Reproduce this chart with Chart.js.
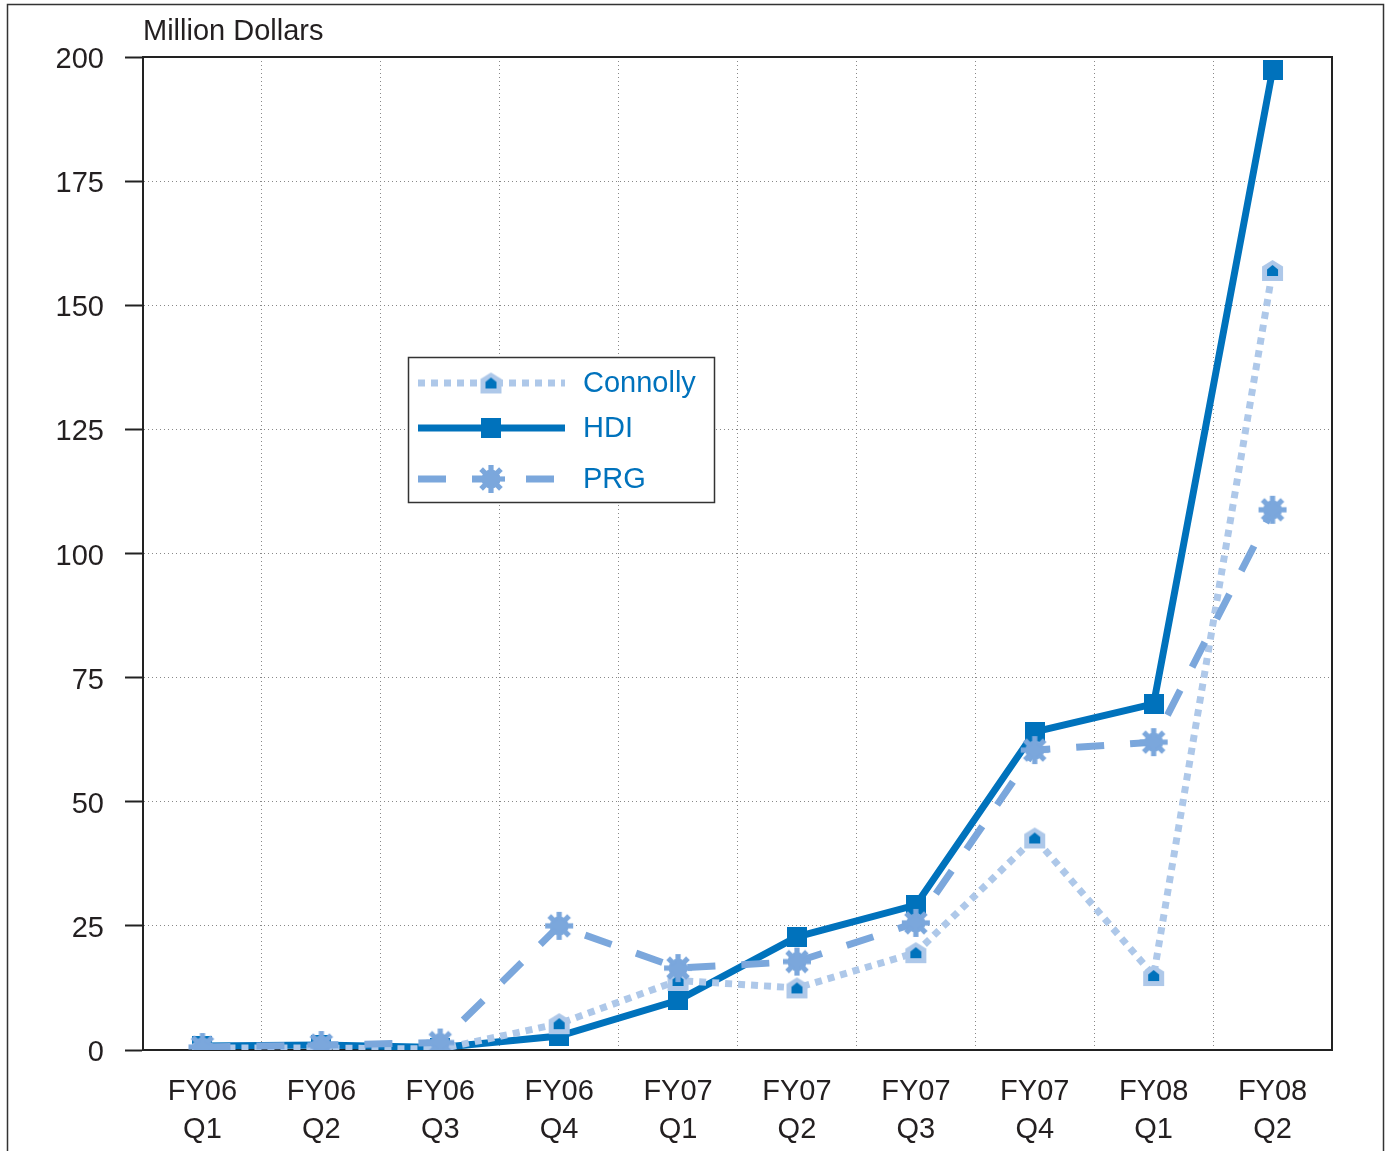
<!DOCTYPE html>
<html><head><meta charset="utf-8">
<style>html,body{margin:0;padding:0;background:#fff;} #wrap{position:relative;width:1385px;height:1151px;}</style>
<script src="https://cdn.jsdelivr.net/npm/chart.js@4/dist/chart.umd.min.js"></script>
</head><body><div id="wrap"><canvas id="c" width="1385" height="1151"></canvas></div>
<script>
const categories = [['FY06','Q1'],['FY06','Q2'],['FY06','Q3'],['FY06','Q4'],['FY07','Q1'],['FY07','Q2'],['FY07','Q3'],['FY07','Q4'],['FY08','Q1'],['FY08','Q2']];
const connolly = [0.4, 0.4, 0.2, 5.3, 14, 12.5, 19.6, 42.7, 15, 157];
const hdi = [0.8, 1.0, 0.5, 2.8, 10, 22.8, 29.2, 64.1, 69.7, 197.3];
const prg = [0.6, 1.0, 1.5, 25, 16.5, 17.8, 25.6, 60.4, 62, 108.8];
const seriesNames = ['Connolly', 'HDI', 'PRG'];
const yMin = 0, yMax = 200, yStep = 25;
const yTitle = 'Million Dollars';

const FONT = '"Liberation Sans", Arial, Helvetica, sans-serif';
const FS = 29;
const C_HDI = '#0072bc', C_PRG = '#7ba7dc', C_CON = '#aec8e9';

function makeCanvas(w, h, draw) { const c = document.createElement('canvas'); c.width = w; c.height = h; draw(c.getContext('2d')); return c; }
const houseMarker = makeCanvas(23, 23, ctx => {
  ctx.fillStyle = C_CON; ctx.beginPath();
  ctx.moveTo(11.5, 1); ctx.lineTo(22, 7.5); ctx.lineTo(22, 22); ctx.lineTo(1, 22); ctx.lineTo(1, 7.5); ctx.closePath(); ctx.fill();
  ctx.fillStyle = C_HDI; ctx.beginPath();
  ctx.moveTo(11.5, 6); ctx.lineTo(17, 10.5); ctx.lineTo(17, 17); ctx.lineTo(6, 17); ctx.lineTo(6, 10.5); ctx.closePath(); ctx.fill();
});
const squareMarker = makeCanvas(20, 20, ctx => { ctx.fillStyle = C_HDI; ctx.fillRect(0, 0, 20, 20); });
const gearMarker = makeCanvas(30, 30, ctx => {
  ctx.fillStyle = C_PRG; ctx.translate(15, 15);
  ctx.beginPath(); ctx.arc(0, 0, 9.5, 0, Math.PI * 2); ctx.fill();
  for (let i = 0; i < 8; i++) { ctx.save(); ctx.rotate(i * Math.PI / 4); ctx.fillRect(-2.6, -14, 5.2, 8); ctx.restore(); }
});

const decor = {
  id: 'decor',
  afterDraw(chart) {
    const ctx = chart.ctx, a = chart.chartArea;
    ctx.save();
    ctx.strokeStyle = '#333'; ctx.lineWidth = 1.5;
    ctx.strokeRect(7.5, 4.5, 1376, 1200);
    ctx.strokeStyle = '#222'; ctx.lineWidth = 2;
    ctx.beginPath(); ctx.moveTo(a.left, a.top); ctx.lineTo(a.right, a.top); ctx.lineTo(a.right, a.bottom); ctx.stroke();
    ctx.fillStyle = '#231f20'; ctx.font = FS + 'px ' + FONT; ctx.textAlign = 'left'; ctx.textBaseline = 'middle';
    ctx.fillText(yTitle, 143, 32);
    const lx = 408, ly = 357, lw = 306, lh = 145;
    ctx.fillStyle = '#fff'; ctx.fillRect(lx, ly, lw, lh);
    ctx.strokeStyle = '#333'; ctx.lineWidth = 1.5; ctx.strokeRect(lx + 0.5, ly + 0.5, lw, lh);
    const rows = [383, 428, 479];
    chart.data.datasets.forEach((ds, i) => {
      const y = rows[i];
      ctx.save();
      ctx.strokeStyle = ds.borderColor; ctx.lineWidth = ds.borderWidth; ctx.setLineDash(ds.borderDash || []);
      ctx.beginPath(); ctx.moveTo(418, y); ctx.lineTo(565, y); ctx.stroke();
      ctx.restore();
      const img = ds.pointStyle;
      ctx.drawImage(img, 491 - img.width / 2, y - img.height / 2);
      ctx.fillStyle = C_HDI; ctx.font = FS + 'px ' + FONT; ctx.textAlign = 'left'; ctx.textBaseline = 'middle';
      ctx.fillText(ds.label, 583, y + 1);
    });
    ctx.restore();
  }
};

new Chart(document.getElementById('c'), {
  type: 'line',
  data: {
    labels: categories,
    datasets: [
      { label: seriesNames[0], data: connolly, borderColor: C_CON, borderWidth: 7, borderDash: [7, 6], pointStyle: houseMarker, pointRadius: 11, order: 1, fill: false, tension: 0 },
      { label: seriesNames[1], data: hdi, borderColor: C_HDI, borderWidth: 7, borderDash: [], pointStyle: squareMarker, pointRadius: 10, order: 2, fill: false, tension: 0 },
      { label: seriesNames[2], data: prg, borderColor: C_PRG, borderWidth: 7, borderDash: [28, 26], pointStyle: gearMarker, pointRadius: 14, order: 0, fill: false, tension: 0 }
    ]
  },
  options: {
    responsive: false, animation: false, devicePixelRatio: 1,
    layout: { padding: { top: 57, right: 53, left: 0, bottom: 0 } },
    plugins: { legend: { display: false }, tooltip: { enabled: false }, title: { display: false } },
    scales: {
      x: {
        offset: true,
        grid: { offset: true, color: '#888', lineWidth: 1, drawTicks: false },
        border: { display: true, color: '#222', width: 2, dash: [1, 3] },
        ticks: { color: '#231f20', font: { family: FONT, size: FS, lineHeight: 1.32 }, padding: 23, maxRotation: 0, autoSkip: false },
        afterFit(s) { s.height = 101; }
      },
      y: {
        min: yMin, max: yMax,
        grid: { color: '#888', lineWidth: 1, tickColor: '#222', tickWidth: 2, tickBorderDash: [], tickLength: 18 },
        border: { display: true, color: '#222', width: 2, dash: [1, 3] },
        ticks: { stepSize: yStep, color: '#231f20', font: { family: FONT, size: FS }, padding: 21, labelOffset: 3 },
        afterFit(s) { s.width = 143; }
      }
    }
  },
  plugins: [decor]
});
</script></body></html>
